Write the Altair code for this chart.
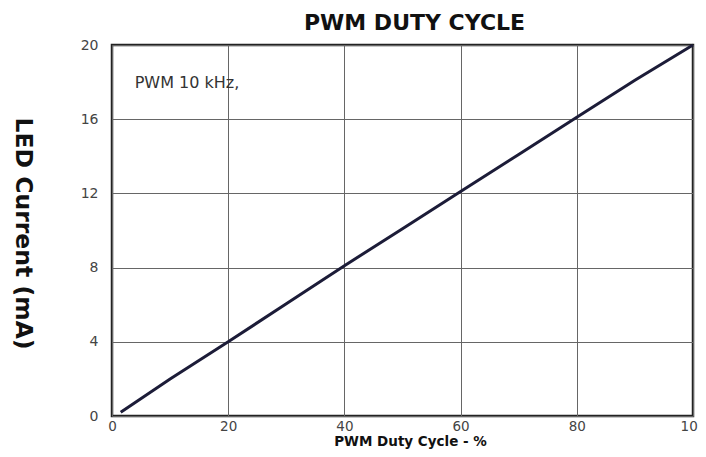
import altair as alt
import pandas as pd

duty = [1.5, 10, 20, 30, 40, 50, 60, 70, 80, 90, 100]
current = [0.2, 2.0, 4.0, 6.05, 8.1, 10.1, 12.1, 14.1, 16.1, 18.1, 20.0]
x_ticks = [0, 20, 40, 60, 80, 100]
y_ticks = [0, 4, 8, 12, 16, 20]

df = pd.DataFrame({"duty": duty, "current": current})
note = pd.DataFrame({"x": [3.9], "y": [17.95], "t": ["PWM 10 kHz,"]})

LFONT = "DejaVu Sans"
BFONT = "DejaVu Sans"

line = alt.Chart(df).mark_line(color="#1c1c38", strokeWidth=3).encode(
    x=alt.X("duty:Q", scale=alt.Scale(domain=[0, 100], nice=False),
            axis=alt.Axis(values=x_ticks, title="PWM Duty Cycle - %", grid=True,
                          tickSize=0, labelPadding=3, labelFontSize=13.5,
                          labelColor="#444", labelFont=LFONT, titleFont=BFONT,
                          titleFontSize=13.5, titleFontWeight="bold", titleColor="#111",
                          titleX=298, titleY=25, titleAlign="center",
                          titleBaseline="middle",
                          domain=False, gridColor="#666",
                          gridWidth=1, labelFlush=False)),
    y=alt.Y("current:Q", scale=alt.Scale(domain=[0, 20], nice=False),
            axis=alt.Axis(values=y_ticks, title="LED Current (mA)", grid=True,
                          tickSize=0, labelPadding=14, labelFontSize=14,
                          labelColor="#444", labelFont=LFONT, titleFont=BFONT,
                          titleFontSize=23.5, titleFontWeight="bold", titleColor="#111",
                          titleAngle=90, titleX=-90, titleY=188,
                          titleAlign="center", titleBaseline="middle",
                          domain=False, gridColor="#666", gridWidth=1,
                          labelFlush=False)),
)

text = alt.Chart(note).mark_text(align="left", baseline="middle", fontSize=16,
                                  font=LFONT, color="#333").encode(
    x="x:Q", y="y:Q", text="t:N")

chart = (line + text).properties(
    width=581, height=371,
    title=alt.TitleParams("PWM DUTY CYCLE", font=BFONT, fontSize=22,
                          fontWeight="bold", color="#111", anchor="middle",
                          offset=3, dx=12),
    autosize=alt.AutoSizeParams(type="none"),
    padding={"left": 104, "top": 37, "right": 5, "bottom": 33},
).configure_view(stroke="#222", strokeWidth=2.5)

chart.save("out.html", embed_options={"renderer": "svg", "actions": False})
